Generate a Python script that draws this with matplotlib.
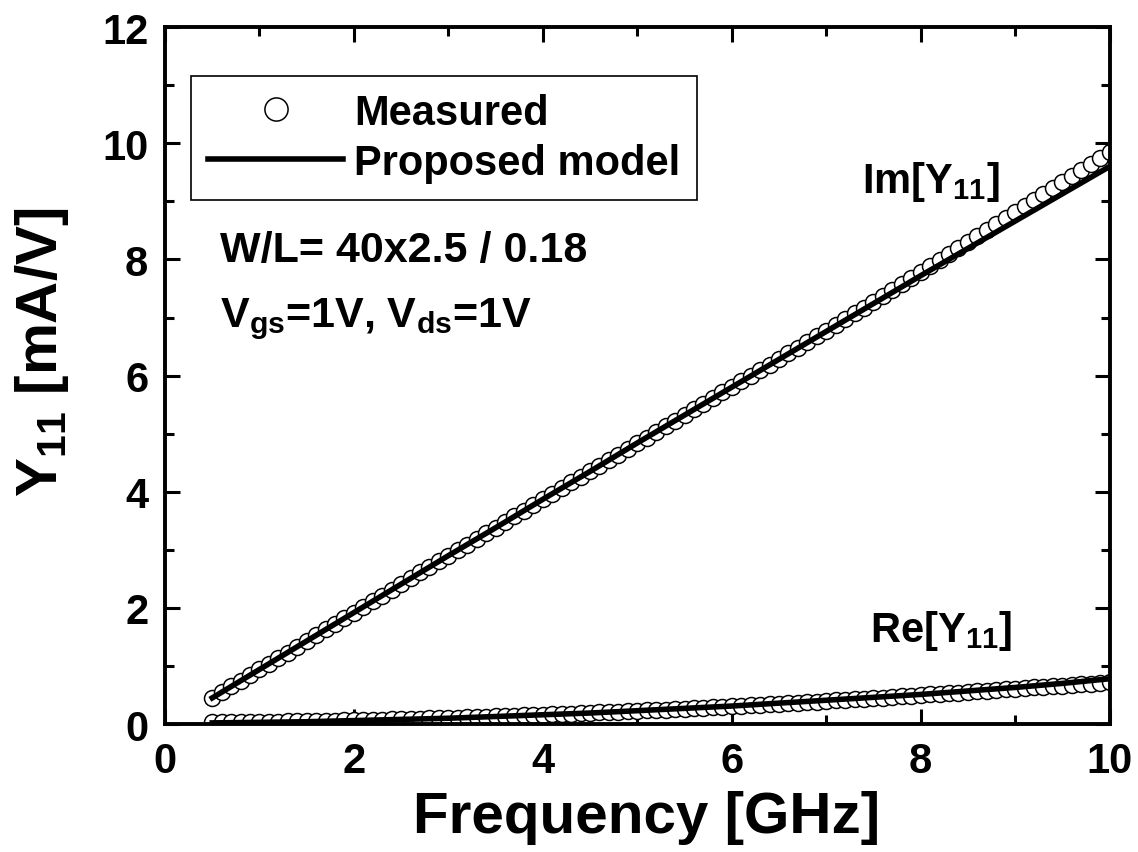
import matplotlib
matplotlib.use("Agg")
import matplotlib.pyplot as plt
from matplotlib.ticker import MultipleLocator
import numpy as np

plt.rcParams["font.family"] = ["Liberation Sans", "DejaVu Sans"]
plt.rcParams["font.weight"] = "bold"
plt.rcParams["mathtext.fontset"] = "custom"
plt.rcParams["mathtext.rm"] = "Liberation Sans:bold"
plt.rcParams["mathtext.bf"] = "Liberation Sans:bold"
plt.rcParams["mathtext.it"] = "Liberation Sans:bold"
plt.rcParams["mathtext.default"] = "bf"

# measured points, 0.5 .. 10 GHz every 0.1 GHz
freq_meas = np.round(np.arange(5, 101) * 0.1, 1)

im_meas = [
    0.45, 0.55, 0.65, 0.74, 0.84, 0.94, 1.04, 1.14, 1.23, 1.33,
    1.43, 1.53, 1.63, 1.72, 1.82, 1.92, 2.02, 2.12, 2.21, 2.31,
    2.41, 2.51, 2.61, 2.70, 2.80, 2.90, 3.00, 3.09, 3.19, 3.29,
    3.38, 3.48, 3.58, 3.67, 3.77, 3.87, 3.96, 4.06, 4.16, 4.26,
    4.35, 4.45, 4.55, 4.64, 4.74, 4.84, 4.93, 5.03, 5.13, 5.22,
    5.32, 5.42, 5.51, 5.61, 5.71, 5.81, 5.90, 6.00, 6.10, 6.19,
    6.29, 6.39, 6.48, 6.58, 6.68, 6.77, 6.87, 6.97, 7.07, 7.17,
    7.27, 7.37, 7.47, 7.58, 7.68, 7.78, 7.88, 7.99, 8.09, 8.19,
    8.30, 8.40, 8.50, 8.61, 8.71, 8.82, 8.92, 9.02, 9.13, 9.23,
    9.34, 9.44, 9.54, 9.65, 9.75, 9.85,
]

re_meas = [
    0.027, 0.028, 0.030, 0.032, 0.034, 0.036, 0.039, 0.041, 0.044, 0.046,
    0.049, 0.052, 0.055, 0.058, 0.062, 0.065, 0.069, 0.072, 0.076, 0.080,
    0.084, 0.089, 0.093, 0.097, 0.102, 0.107, 0.112, 0.117, 0.122, 0.127,
    0.132, 0.138, 0.143, 0.149, 0.155, 0.161, 0.167, 0.173, 0.180, 0.186,
    0.193, 0.199, 0.206, 0.213, 0.220, 0.228, 0.235, 0.242, 0.250, 0.258,
    0.265, 0.273, 0.281, 0.290, 0.298, 0.306, 0.315, 0.323, 0.332, 0.341,
    0.350, 0.359, 0.368, 0.378, 0.387, 0.397, 0.406, 0.416, 0.426, 0.436,
    0.446, 0.456, 0.467, 0.477, 0.488, 0.498, 0.509, 0.520, 0.531, 0.542,
    0.553, 0.564, 0.575, 0.586, 0.597, 0.608, 0.619, 0.630, 0.641, 0.652,
    0.663, 0.674, 0.685, 0.696, 0.707, 0.718,
]

# model curves
freq_model = [0.5, 1.0, 1.5, 2.0, 2.5, 3.0, 3.5, 4.0, 4.5, 5.0,
              5.5, 6.0, 6.5, 7.0, 7.5, 8.0, 8.5, 9.0, 9.5, 10.0]
im_model = [0.45, 0.94, 1.43, 1.92, 2.41, 2.90, 3.38, 3.87, 4.35, 4.84,
            5.32, 5.80, 6.28, 6.76, 7.24, 7.72, 8.19, 8.66, 9.13, 9.60]
re_model = [0.02, 0.03, 0.04, 0.06, 0.08, 0.10, 0.13, 0.16, 0.19, 0.23,
            0.27, 0.31, 0.36, 0.41, 0.46, 0.51, 0.57, 0.63, 0.70, 0.78]

fig = plt.figure(figsize=(11.38, 8.53), dpi=100)
ax = fig.add_axes([0.145, 0.150, 0.830, 0.817])

mk = dict(marker="o", linestyle="none", markersize=11.5,
          markerfacecolor="white", markeredgecolor="black", markeredgewidth=1.1)
ax.plot(freq_meas, im_meas, label="Measured", zorder=2, **mk)
ax.plot(freq_meas, re_meas, zorder=2, **mk)
ax.plot(freq_model, im_model, color="black", linewidth=4, label="Proposed model", zorder=3)
ax.plot(freq_model, re_model, color="black", linewidth=4, zorder=3)

ax.set_xlim(0, 10)
ax.set_ylim(0, 12)
ax.xaxis.set_major_locator(MultipleLocator(2))
ax.xaxis.set_minor_locator(MultipleLocator(1))
ax.yaxis.set_major_locator(MultipleLocator(2))
ax.yaxis.set_minor_locator(MultipleLocator(1))
ax.tick_params(which="both", direction="in", top=True, right=True, width=2.2)
ax.tick_params(which="major", length=11, labelsize=30, pad=12)
ax.tick_params(which="minor", length=6.5)
for sp in ax.spines.values():
    sp.set_linewidth(2.8)

ax.set_xlabel("Frequency [GHz]", fontsize=42, fontweight="bold")
ax.set_ylabel("Y$_{11}$ [mA/V]", fontsize=42, fontweight="bold")
ax.xaxis.set_label_coords(0.51, -0.095)
ax.yaxis.set_label_coords(-0.100, 0.535)

leg = ax.legend(loc="upper left", bbox_to_anchor=(0.0275, 0.930), borderaxespad=0,
                fontsize=30, handlelength=3.26, handletextpad=0.26, markerscale=1.45,
                labelspacing=0.25, borderpad=0.4, fancybox=False, framealpha=1)
leg.get_frame().set_edgecolor("black")
leg.get_frame().set_linewidth(1.2)

ax.text(0.58, 7.97, "W/L= 40x2.5 / 0.18", fontsize=31, fontweight="bold")
ax.text(0.58, 6.86, "V$_{gs}$=1V, V$_{ds}$=1V", fontsize=31, fontweight="bold")
ax.text(7.38, 9.17, "Im[Y$_{11}$]", fontsize=30, fontweight="bold")
ax.text(7.46, 1.43, "Re[Y$_{11}$]", fontsize=30, fontweight="bold")

fig.savefig("out.png", dpi=100)
